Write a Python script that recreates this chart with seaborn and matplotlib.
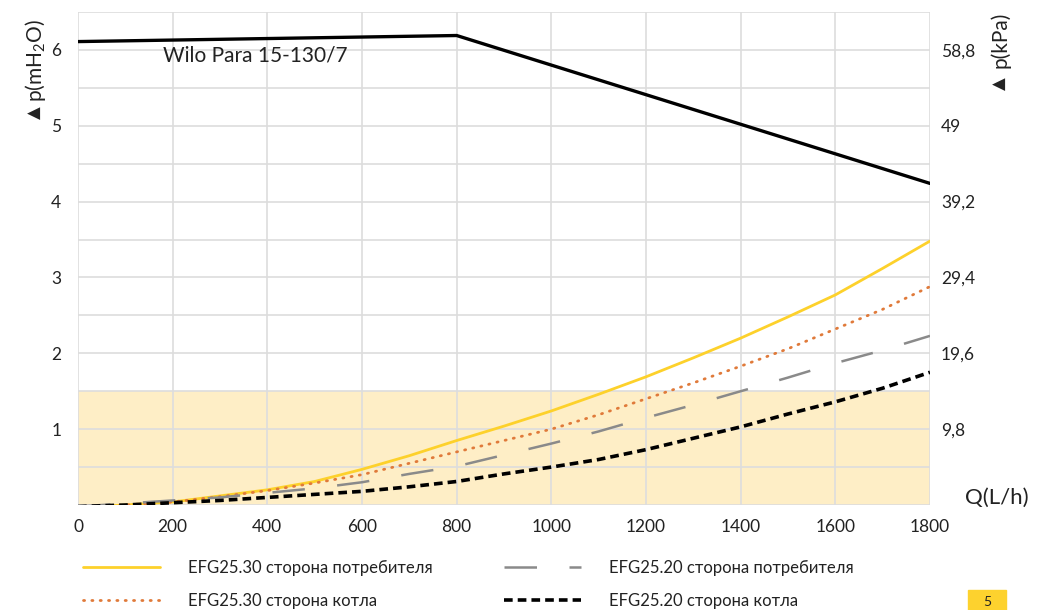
import numpy as np
import pandas as pd
import matplotlib.pyplot as plt
import matplotlib.patches as mpatches
import seaborn as sns

flow = [0, 100, 200, 300, 400, 500, 600, 700, 800, 900,
        1000, 1100, 1200, 1300, 1400, 1500, 1600, 1700, 1800]

# pressure loss in mH2O for each exchanger side
efg30_consumer = [-0.03, 0.00, 0.04, 0.12, 0.20, 0.31, 0.47, 0.65, 0.85, 1.04,
                  1.24, 1.46, 1.69, 1.94, 2.20, 2.48, 2.77, 3.12, 3.48]
efg30_boiler = [-0.02, 0.00, 0.04, 0.11, 0.19, 0.29, 0.40, 0.55, 0.70, 0.85,
                1.00, 1.19, 1.40, 1.61, 1.83, 2.06, 2.32, 2.58, 2.88]
efg20_consumer = [-0.02, 0.02, 0.06, 0.10, 0.16, 0.22, 0.30, 0.41, 0.51, 0.66,
                  0.81, 0.97, 1.15, 1.32, 1.50, 1.68, 1.87, 2.04, 2.23]
efg20_boiler = [-0.02, 0.00, 0.03, 0.06, 0.10, 0.14, 0.18, 0.24, 0.31, 0.41,
                0.50, 0.60, 0.73, 0.88, 1.03, 1.20, 1.36, 1.54, 1.75]

# pump curve
pump_flow = [0, 800, 1800]
pump_head = [6.11, 6.19, 4.24]

left_ticks = [1, 2, 3, 4, 5, 6]
right_labels = ['9,8', '19,6', '29,4', '39,2', '49', '58,8']
x_ticks = [0, 200, 400, 600, 800, 1000, 1200, 1400, 1600, 1800]

labels = ['EFG25.30 сторона потребителя', 'EFG25.30 сторона котла',
          'EFG25.20 сторона потребителя', 'EFG25.20 сторона котла']

sns.set_style('white')
plt.rcParams['font.family'] = ['Lato', 'DejaVu Sans']
plt.rcParams['mathtext.fontset'] = 'custom'
plt.rcParams['mathtext.rm'] = 'Lato'
plt.rcParams['mathtext.it'] = 'Lato'

fig = plt.figure(figsize=(10.44, 6.10), dpi=100)
ax = fig.add_axes([78/1044, 1 - 505/610, (930-78)/1044, (505-12)/610])

ax.axhspan(0, 1.5, color='#FEEEC6', zorder=0, lw=0)

df = pd.DataFrame({'Q': flow, 'y30c': efg30_consumer, 'y30b': efg30_boiler,
                   'y20c': efg20_consumer, 'y20b': efg20_boiler})

sns.lineplot(x=pump_flow, y=pump_head, ax=ax, color='black', lw=2.4)
sns.lineplot(data=df, x='Q', y='y30c', ax=ax, color='#FDD12B', lw=2.0)
sns.lineplot(data=df, x='Q', y='y30b', ax=ax, color='#E07A3A', lw=2.0,
             linestyle=(0, (0.4, 2.6)), dash_capstyle='round')
sns.lineplot(data=df, x='Q', y='y20c', ax=ax, color='#8A8A8A', lw=1.8,
             linestyle=(0, (13, 13)))
sns.lineplot(data=df, x='Q', y='y20b', ax=ax, color='black', lw=2.6,
             linestyle=(0, (2.4, 1.4)))

ax.set_xlim(0, 1800)
ax.set_ylim(0, 6.5)
ax.set_xticks(x_ticks)
ax.set_yticks(left_ticks)
ax.set_yticks(np.arange(0, 6.51, 0.5), minor=True)
ax.set_xlabel('')
ax.set_ylabel('')
for s in ax.spines.values():
    s.set_visible(False)
ax.grid(True, which='both', axis='y', color='#DDDDDD', lw=1.2, zorder=0.5)
ax.grid(True, which='major', axis='x', color='#DDDDDD', lw=1.2, zorder=0.5)
ax.set_axisbelow(True)
ax.tick_params(axis='both', which='both', length=0, labelsize=12.5,
               labelcolor='#222222')
ax.tick_params(axis='y', pad=12)
ax.tick_params(axis='x', pad=10)

ax2 = ax.twinx()
ax2.set_ylim(0, 6.5)
ax2.set_yticks(left_ticks)
ax2.set_yticklabels(right_labels)
for s in ax2.spines.values():
    s.set_visible(False)
ax2.tick_params(axis='y', length=0, labelsize=12.5, labelcolor='#222222', pad=8)
ax2.grid(False)

ax.text(180, 5.85, 'Wilo Para 15-130/7', fontsize=15, color='#222222')

# axis titles: delta triangle drawn separately so it uses DejaVu Sans
fig.text(35/1044, 1 - 113/610, '▲', rotation=90, fontsize=12, color='#222222',
         ha='center', va='center', family='DejaVu Sans')
fig.text(35/1044, 1 - 61/610, 'p(mH$_2$O)', rotation=90, fontsize=15,
         color='#222222', ha='center', va='center')
fig.text(1000/1044, 1 - 84/610, '▲', rotation=90, fontsize=12, color='#222222',
         ha='center', va='center', family='DejaVu Sans')
fig.text(1000/1044, 1 - 40/610, 'p(kPa)', rotation=90, fontsize=15,
         color='#222222', ha='center', va='center')
fig.text(997/1044, 1 - 498/610, 'Q(L/h)', fontsize=16, color='#222222',
         ha='center', va='center')

handles = ax.get_lines()[1:5]
fig.legend(handles, labels, loc='upper left', ncol=2,
           bbox_to_anchor=(0.065, 1 - 545/610), frameon=False,
           fontsize=12, handlelength=4.6, handletextpad=1.7,
           columnspacing=4.3, labelspacing=1.0, labelcolor='#222222')

# page number tab
fig.patches.append(mpatches.Rectangle((968/1044, 0), 38/1044, 20/610,
                                      transform=fig.transFigure,
                                      color='#FDD22E', zorder=0))
fig.text(987/1044, 0.003, '5', fontsize=10, color='#222222',
         ha='center', va='bottom')

fig.savefig('out.png', dpi=100)
